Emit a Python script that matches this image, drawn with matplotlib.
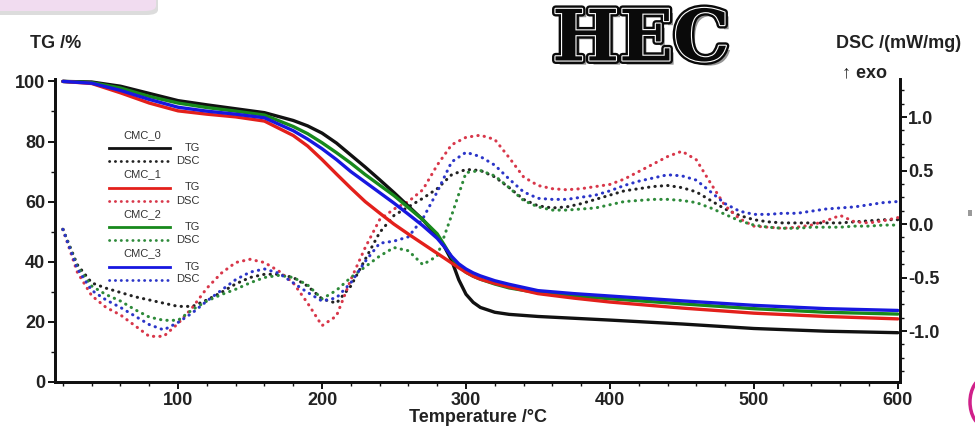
import matplotlib
matplotlib.use("Agg")
import matplotlib.pyplot as plt
import matplotlib.patheffects as pe
from matplotlib.lines import Line2D
from matplotlib.patches import FancyBboxPatch, Rectangle, Arc
from matplotlib.ticker import MultipleLocator, FixedLocator

plt.rcParams['font.family'] = ['Liberation Sans', 'DejaVu Sans']

# TG curves (mass %), sampled against temperature in degC
tg_temp = [20, 40, 60, 80, 100, 120, 140, 160, 180, 190, 200, 210, 220, 230, 240, 250,
           260, 270, 280, 285, 290, 295, 300, 305, 310, 320, 330, 350, 375, 400,
           450, 500, 550, 600]
tg_cmc0 = [100, 99.8, 98.4, 96.0, 93.6, 92.2, 90.9, 89.6, 87.0, 85.2, 82.8, 79.5, 75.5,
           71.5, 67.3, 63.0, 58.5, 54.0, 48.5, 45.0, 40.5, 34.0, 29.2, 26.5, 24.8,
           23.2, 22.5, 21.8, 21.2, 20.6, 19.3, 17.8, 16.9, 16.4]
tg_cmc1 = [100, 99.3, 96.2, 92.8, 90.2, 89.1, 88.2, 86.8, 82.0, 78.5, 74.0, 69.2, 64.5,
           60.0, 56.2, 52.5, 49.2, 46.0, 42.8, 41.2, 39.6, 38.0, 36.5, 35.2, 34.2,
           32.8, 31.6, 29.4, 27.9, 26.6, 24.6, 22.9, 21.8, 21.0]
tg_cmc2 = [100, 99.6, 97.8, 95.0, 92.8, 91.3, 90.1, 88.8, 85.0, 82.6, 79.6, 76.3, 72.8,
           69.0, 65.5, 62.0, 58.0, 54.0, 49.3, 45.5, 41.5, 38.5, 36.5, 35.2, 34.2,
           32.6, 31.3, 29.7, 28.6, 27.7, 26.0, 24.4, 23.2, 22.6]
tg_cmc3 = [100, 99.4, 97.0, 94.0, 91.4, 90.1, 89.1, 87.9, 83.6, 80.8, 77.6, 74.0, 70.0,
           66.5, 63.0, 59.5, 55.8, 52.0, 47.8, 45.0, 41.8, 39.3, 37.6, 36.3, 35.3,
           33.7, 32.5, 30.4, 29.4, 28.6, 27.0, 25.5, 24.4, 23.8]

# DSC curves (mW/mg), every 10 degC from 20 to 600
dsc_temp = list(range(20, 601, 10))
dsc_cmc0 = [-0.05, -0.38, -0.55, -0.60, -0.64, -0.68, -0.71, -0.74, -0.77, -0.77,
            -0.71, -0.64, -0.56, -0.50, -0.47, -0.47, -0.50, -0.58, -0.70, -0.74,
            -0.58, -0.33, -0.08, 0.08, 0.16, 0.24, 0.33, 0.46, 0.51, 0.50,
            0.44, 0.34, 0.23, 0.17, 0.15, 0.16, 0.19, 0.23, 0.27, 0.31,
            0.33, 0.35, 0.36, 0.34, 0.30, 0.22, 0.14, 0.08, 0.04, 0.02,
            0.01, 0.01, 0.01, 0.01, 0.01, 0.02, 0.03, 0.04, 0.04]
dsc_cmc1 = [-0.05, -0.45, -0.67, -0.78, -0.85, -0.95, -1.05, -1.05, -0.93, -0.78,
            -0.60, -0.46, -0.36, -0.33, -0.36, -0.44, -0.55, -0.74, -0.95, -0.86,
            -0.52, -0.22, 0.04, 0.14, 0.21, 0.32, 0.55, 0.74, 0.81, 0.83,
            0.79, 0.62, 0.44, 0.36, 0.33, 0.32, 0.33, 0.35, 0.37, 0.42,
            0.49, 0.56, 0.63, 0.68, 0.60, 0.38, 0.17, 0.05, -0.02, -0.03,
            -0.04, -0.03, -0.01, 0.03, 0.08, 0.02, 0.01, 0.03, 0.06]
dsc_cmc2 = [-0.05, -0.40, -0.58, -0.66, -0.72, -0.80, -0.87, -0.90, -0.90, -0.80,
            -0.72, -0.66, -0.61, -0.55, -0.50, -0.48, -0.50, -0.57, -0.70, -0.62,
            -0.50, -0.40, -0.30, -0.22, -0.25, -0.38, -0.30, 0.08, 0.48, 0.50,
            0.45, 0.34, 0.22, 0.16, 0.13, 0.13, 0.14, 0.15, 0.18, 0.21,
            0.22, 0.23, 0.23, 0.22, 0.20, 0.15, 0.09, 0.03, -0.01, -0.03,
            -0.04, -0.04, -0.03, -0.03, -0.03, -0.02, -0.02, -0.01, -0.01]
dsc_cmc3 = [-0.05, -0.42, -0.62, -0.71, -0.78, -0.86, -0.94, -0.99, -0.92, -0.83,
            -0.72, -0.62, -0.52, -0.45, -0.42, -0.46, -0.55, -0.64, -0.72, -0.69,
            -0.55, -0.35, -0.18, -0.16, -0.12, 0.05, 0.30, 0.58, 0.67, 0.63,
            0.55, 0.42, 0.30, 0.24, 0.23, 0.23, 0.25, 0.27, 0.31, 0.36,
            0.40, 0.43, 0.46, 0.45, 0.41, 0.30, 0.19, 0.12, 0.09, 0.09,
            0.10, 0.10, 0.12, 0.14, 0.15, 0.16, 0.18, 0.20, 0.21]

samples = ["CMC_0", "CMC_1", "CMC_2", "CMC_3"]
tg_data = [tg_cmc0, tg_cmc1, tg_cmc2, tg_cmc3]
dsc_data = [dsc_cmc0, dsc_cmc1, dsc_cmc2, dsc_cmc3]
tg_colors = ["#111111", "#e3201b", "#17891c", "#1717e0"]
dsc_colors = ["#222222", "#d8374a", "#2e8a3a", "#2b35c8"]

x_ticks = [100, 200, 300, 400, 500, 600]
tg_ticks = [0, 20, 40, 60, 80, 100]
dsc_ticks = [-1.0, -0.5, 0.0, 0.5, 1.0]

W, H = 975, 429
fig = plt.figure(figsize=(W / 100, H / 100), dpi=100)


def fx(px):
    return px / W


def fy(py):
    return 1 - py / H


ax = fig.add_axes([fx(55), fy(382), fx(900) - fx(55), fy(79) - fy(382)])
ax2 = ax.twinx()
ax.set_zorder(ax2.get_zorder() + 1)
ax.patch.set_visible(False)

dot = (0, (0.1, 2.0))
for vals, col in zip(dsc_data, dsc_colors):
    ax2.plot(dsc_temp, vals, color=col, lw=2.2, linestyle=dot, dash_capstyle="round")

for i in [0, 2, 1, 3]:
    ax.plot(tg_temp, tg_data[i], color=tg_colors[i], lw=2.4, solid_capstyle="round")

ax.set_xlim(14.5, 601.5)
ax.set_ylim(0, 100.8)
ax2.set_ylim((224 - 382) / 107, (224 - 79) / 107)

for a in (ax, ax2):
    a.spines["top"].set_visible(False)
    for s in ("left", "right", "bottom"):
        a.spines[s].set_linewidth(2.0)
        a.spines[s].set_color("#111111")

tick_font = dict(fontsize=13, fontweight="bold", color="#222222")
ax.xaxis.set_major_locator(FixedLocator(x_ticks))
ax.xaxis.set_minor_locator(MultipleLocator(20))
ax.yaxis.set_major_locator(FixedLocator(tg_ticks))
ax.yaxis.set_minor_locator(MultipleLocator(10))
ax.set_xticklabels([str(t) for t in x_ticks], **tick_font)
ax.set_yticklabels([str(t) for t in tg_ticks], **tick_font)
ax2.yaxis.set_major_locator(FixedLocator(dsc_ticks))
ax2.yaxis.set_minor_locator(MultipleLocator(0.125))
ax2.set_yticklabels([f"{t:.1f}" for t in dsc_ticks], **tick_font)

ax.tick_params(axis="both", which="major", direction="out", length=5, width=1.4,
               color="#111111", pad=2)
ax.tick_params(axis="both", which="minor", direction="out", length=3, width=1.0,
               color="#111111")
ax2.tick_params(axis="y", which="major", direction="out", length=5, width=1.4,
                color="#111111", pad=1)
ax2.tick_params(axis="y", which="minor", direction="out", length=3, width=1.0,
                color="#111111")

label_font = dict(fontsize=13, fontweight="bold", color="#222222")
fig.text(fx(478), fy(418), "Temperature /°C", ha="center", va="center", **label_font)
fig.text(fx(30), fy(44), "TG /%", ha="left", va="center", **label_font)
fig.text(fx(836), fy(43), "DSC /(mW/mg)", ha="left", va="center", **label_font)
fig.text(fx(842), fy(73), "↑ exo", ha="left", va="center", **label_font)

# big sample title
fig.text(fx(641), fy(41), "HEC", ha="center", va="center", fontsize=51,
         family="DejaVu Serif", fontweight="heavy", color="#0a0a0a",
         path_effects=[pe.SimplePatchShadow(offset=(3, -3), shadow_rgbFace="#8a8a8a", alpha=0.9),
                       pe.Stroke(linewidth=5, foreground="#0a0a0a"),
                       pe.Stroke(linewidth=1.6, foreground="white"),
                       pe.Normal()])

# hand-made legend block
for i, name in enumerate(samples):
    y0 = 135 + 39.5 * i
    fig.text(fx(142), fy(y0), name, ha="center", va="center", fontsize=8, color="#333333")
    fig.add_artist(Line2D([fx(109), fx(170)], [fy(y0 + 13)] * 2, color=tg_colors[i], lw=2.0,
                          transform=fig.transFigure))
    fig.add_artist(Line2D([fx(109), fx(170)], [fy(y0 + 26)] * 2, color=dsc_colors[i], lw=2.0,
                          linestyle=dot, dash_capstyle="round", transform=fig.transFigure))
    fig.text(fx(200), fy(y0 + 13), "TG", ha="right", va="center", fontsize=8, color="#333333")
    fig.text(fx(200), fy(y0 + 26), "DSC", ha="right", va="center", fontsize=8, color="#333333")

# header tab in the corner and small edge marks
fig.patches.append(FancyBboxPatch((fx(-20), fy(15)), fx(178), fy(0) - fy(15) + 0.05,
                                  boxstyle="round,pad=0,rounding_size=0.012",
                                  facecolor="#dcdcdc", edgecolor="none",
                                  transform=fig.transFigure, zorder=0))
fig.patches.append(FancyBboxPatch((fx(-20), fy(11)), fx(176), fy(0) - fy(11) + 0.05,
                                  boxstyle="round,pad=0,rounding_size=0.012",
                                  facecolor="#f1dcf0", edgecolor="none",
                                  transform=fig.transFigure, zorder=1))
fig.patches.append(Rectangle((fx(968), fy(216)), fx(4), fy(210) - fy(216),
                             facecolor="#9a9a9a", edgecolor="none",
                             transform=fig.transFigure))
fig.patches.append(Arc((fx(985), fy(402)), fx(30), fy(378) - fy(426), theta1=90, theta2=270,
                       color="#d0208a", lw=2.5, transform=fig.transFigure))

fig.savefig("out.png", dpi=100)
